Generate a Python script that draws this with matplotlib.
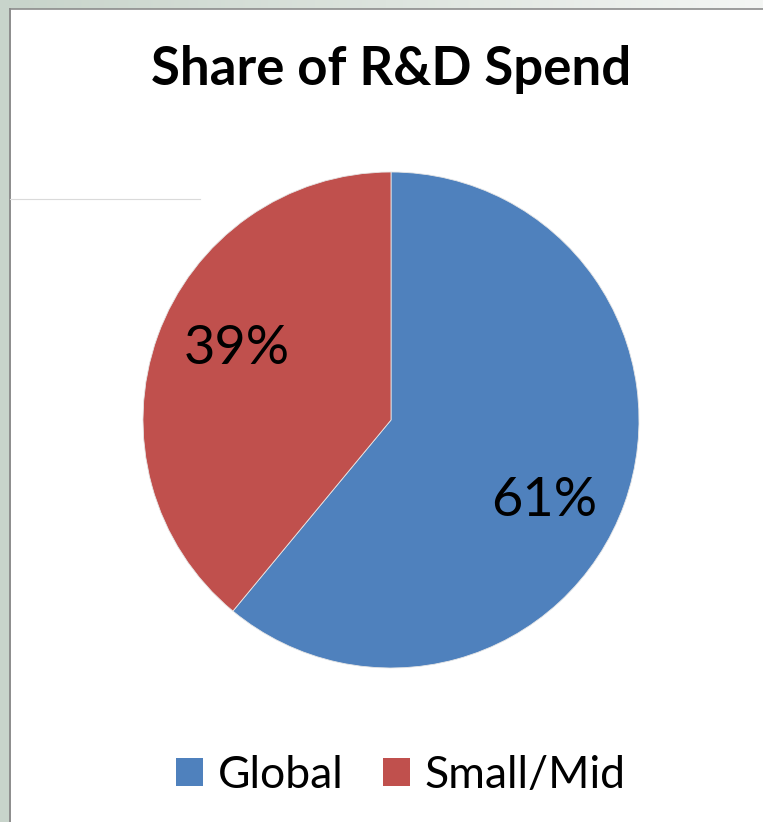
import numpy as np
import matplotlib.pyplot as plt
from matplotlib.patches import Rectangle
from matplotlib.lines import Line2D

categories = ['Global', 'Small/Mid']
shares = [61, 39]
colors = ['#4F81BD', '#C0504D']
title = 'Share of R&D Spend'

W, H = 763, 822
fig = plt.figure(figsize=(W / 100, H / 100), dpi=100)
fig.patch.set_facecolor('white')


def fx(px):
    return px / W


def fy(py):
    return 1 - py / H


# slide frame: grey-green strip on the left, fading strip along the top
fig.patches.append(Rectangle((0, 0), fx(9), 1, transform=fig.transFigure,
                             facecolor='#C8D4CB', edgecolor='none', zorder=0))
top = fig.add_axes([fx(9), fy(9), 1 - fx(9), 9 / H])
grad = np.linspace(0, 1, 256)[None, :]
top.imshow(grad, aspect='auto', cmap=plt.matplotlib.colors.LinearSegmentedColormap.from_list(
    'frame', ['#C8D4CB', '#DDE4DE', '#F4F6F4']), extent=[0, 1, 0, 1])
top.axis('off')
fig.lines.append(Line2D([fx(10), fx(10)], [0, fy(9)], transform=fig.transFigure,
                        color='#8C8C8C', lw=1.4))
fig.lines.append(Line2D([fx(10), 1], [fy(9.5), fy(9.5)], transform=fig.transFigure,
                        color='#8C8C8C', lw=1.2))
fig.lines.append(Line2D([fx(10), fx(200)], [fy(199), fy(199)], transform=fig.transFigure,
                        color='#DADADA', lw=0.8))

# pie, centred at (391, 420) px with radius 248 px
cx, cy, r = 391, 420, 248
ax = fig.add_axes([fx(cx - r), fy(cy + r), 2 * r / W, 2 * r / H])
wedges, texts, autotexts = ax.pie(
    shares, colors=colors, startangle=90, counterclock=False,
    autopct='%d%%', pctdistance=0.69,
    wedgeprops=dict(edgecolor='#E6E6E6', linewidth=0.6),
    textprops=dict(fontsize=39, family='Lato', color='black'))
ax.set_xlim(-1, 1)
ax.set_ylim(-1, 1)
autotexts[0].set_position((0.617, -0.323))
autotexts[1].set_position((-0.621, 0.290))

fig.text(fx(391), fy(69), title, ha='center', va='center',
         fontsize=38, fontweight='bold', family='Lato')

handles = [Rectangle((0, 0), 1, 1, facecolor=c, edgecolor='none') for c in colors]
fig.legend(handles, categories, loc='center', bbox_to_anchor=(fx(401), fy(775)),
           ncol=2, frameon=False, prop=dict(family='Lato', size=32),
           handlelength=0.6, handleheight=0.6, handletextpad=0.33,
           columnspacing=0.9, borderpad=0, borderaxespad=0)

fig.savefig('out.png', dpi=100)
